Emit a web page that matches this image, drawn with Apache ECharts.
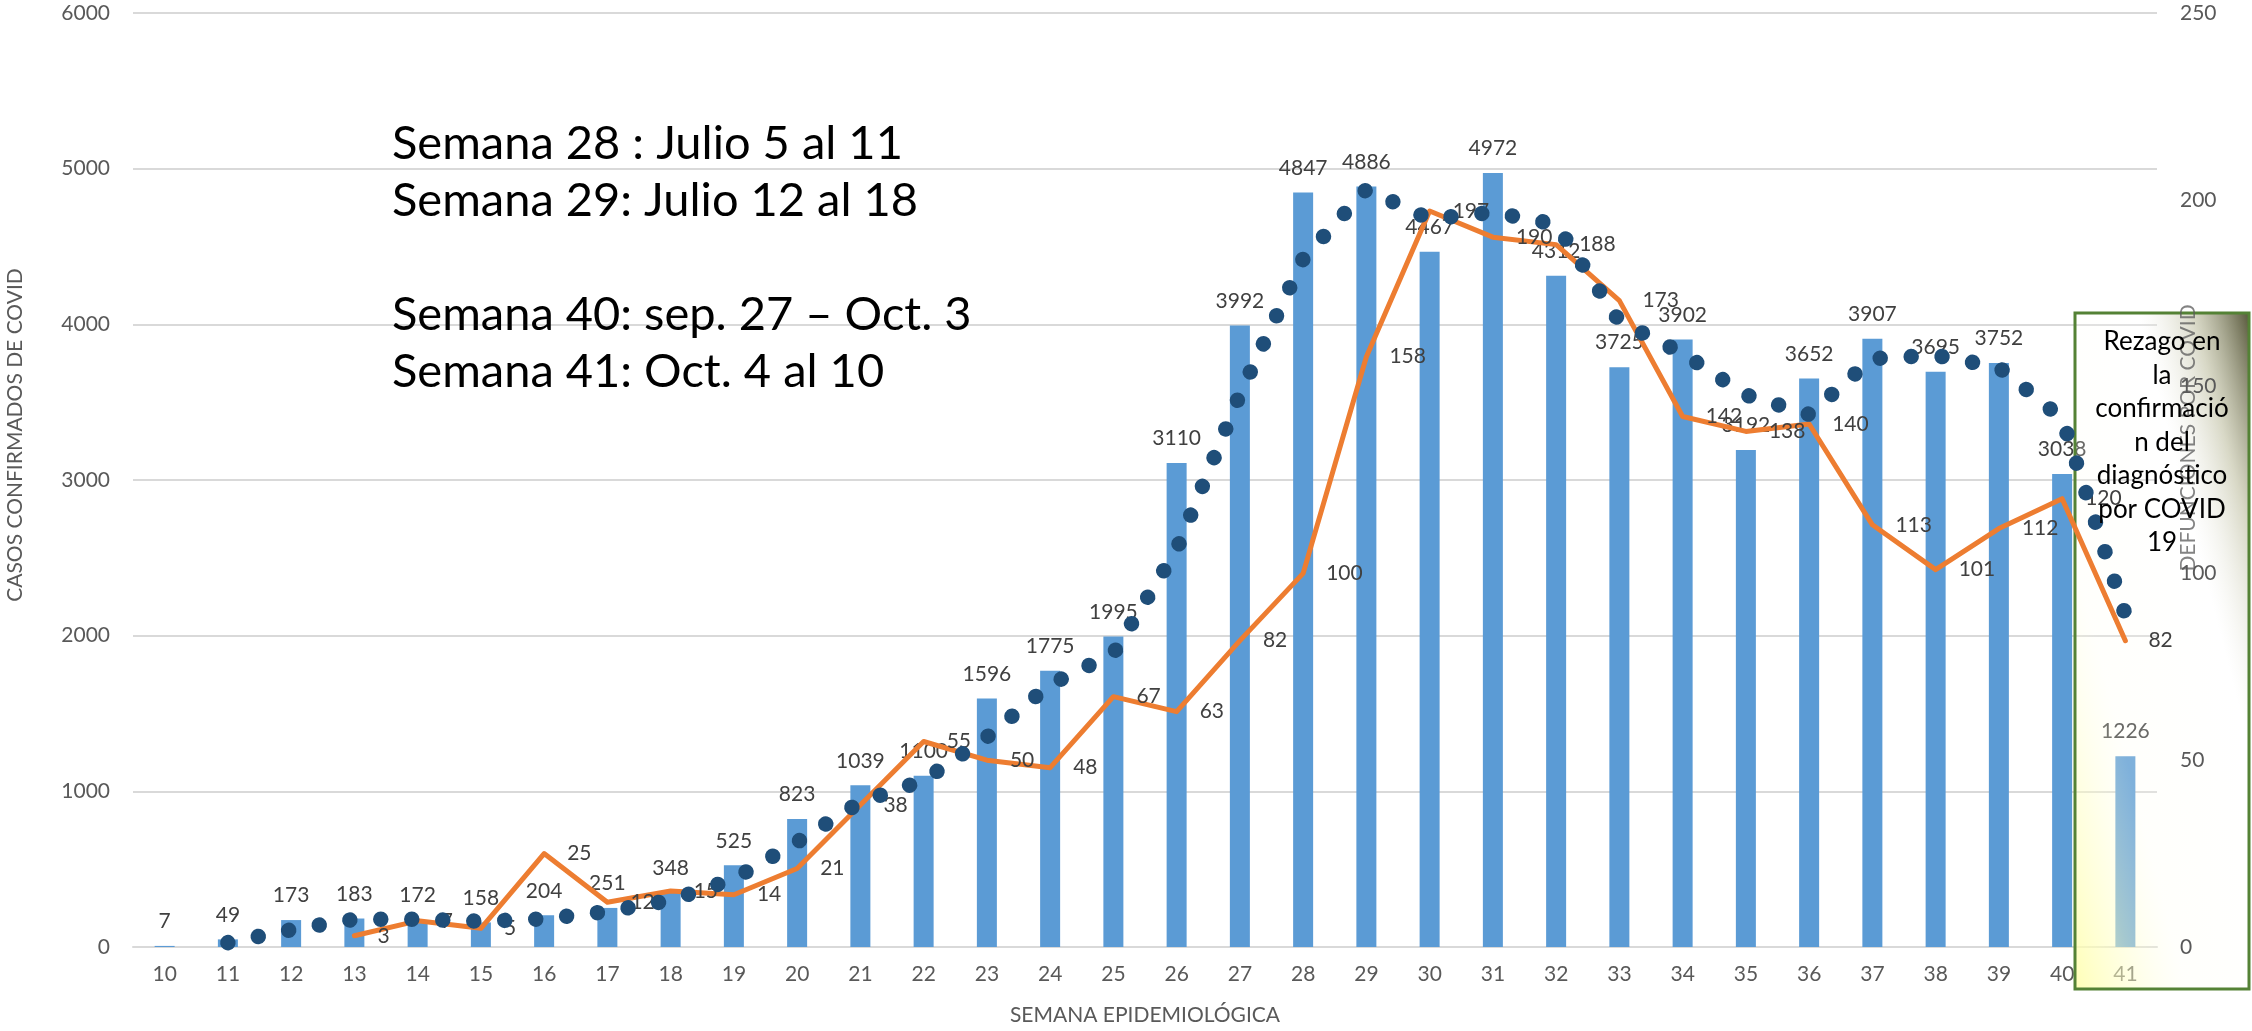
<!DOCTYPE html>
<html>
<head>
<meta charset="utf-8">
<script src="https://cdn.jsdelivr.net/npm/echarts@6/dist/echarts.min.js"></script>
<style>
html,body{margin:0;padding:0;background:#fff;}
#chart{width:2252px;height:1031px;}
</style>
</head>
<body>
<div id="chart"></div>
<script>
// ---- data ----
const semanas = ['10','11','12','13','14','15','16','17','18','19','20','21','22','23','24','25','26','27','28','29','30','31','32','33','34','35','36','37','38','39','40','41'];
const casosConfirmados = [7,49,173,183,172,158,204,251,348,525,823,1039,1100,1596,1775,1995,3110,3992,4847,4886,4467,4972,4312,3725,3902,3192,3652,3907,3695,3752,3038,1226];
const defunciones = [null,null,null,3,7,5,25,12,15,14,21,38,55,50,48,67,63,82,100,158,197,190,188,173,142,138,140,113,101,112,120,82];
// dotted trend line (2-week moving average of cases)
const tendenciaCasos = [null,28,111,178,178,165,181,228,300,437,674,931,1070,1348,1686,1885,2553,3551,4420,4867,4677,4720,4642,4019,3814,3547,3422,3780,3801,3724,3395,2132];
const ejeCasos = {min:0, max:6000, interval:1000};
const ejeDefunciones = {min:0, max:250, interval:50};
const notaSemanas = ['Semana 28 : Julio 5 al 11','Semana 29: Julio 12 al 18','','Semana 40: sep. 27 \u2013 Oct. 3','Semana 41: Oct. 4 al 10'];
const notaRezago = ['Rezago en','la','confirmació','n del','diagnóstico','por COVID','19'];

const FONT = 'Lato, Carlito, "Open Sans", sans-serif';
const chart = echarts.init(document.getElementById('chart'));

const boxX = 2075, boxY = 313, boxW = 174, boxH = 676;

chart.setOption({
  animation:false,
  backgroundColor:'#ffffff',
  textStyle:{fontFamily:FONT},
  grid:{left:133, right:95, top:13, bottom:84, containLabel:false},
  xAxis:{
    type:'category', data:semanas, z:0,
    axisLine:{show:true, lineStyle:{color:'#d9d9d9', width:2}},
    axisTick:{show:false},
    axisLabel:{color:'#595959', fontSize:21, margin:17, fontFamily:FONT},
    name:'SEMANA EPIDEMIOLÓGICA', nameLocation:'middle', nameGap:58,
    nameTextStyle:{color:'#595959', fontSize:21, fontFamily:FONT}
  },
  yAxis:[
    {type:'value', min:ejeCasos.min, max:ejeCasos.max, interval:ejeCasos.interval, z:0,
     axisLine:{show:false}, axisTick:{show:false},
     axisLabel:{color:'#595959', fontSize:21, margin:23, fontFamily:FONT, formatter:function(v){return String(v);}},
     splitLine:{show:true, lineStyle:{color:'#d9d9d9', width:2}}},
    {type:'value', min:ejeDefunciones.min, max:ejeDefunciones.max, interval:ejeDefunciones.interval, z:6,
     position:'right',
     axisLine:{show:false}, axisTick:{show:false},
     axisLabel:{color:'#595959', fontSize:21, margin:23, fontFamily:FONT, formatter:function(v){return String(v);}},
     splitLine:{show:false}}
  ],
  series:[
    {name:'Casos', type:'bar', data:casosConfirmados, barWidth:20, z:1,
     itemStyle:{color:'#5b9bd5'},
     label:{show:true, position:'top', distance:14, color:'#404040', fontSize:21, fontFamily:FONT}},
    {name:'Defunciones', type:'line', yAxisIndex:1, data:defunciones, z:3,
     symbol:'circle', symbolSize:2, showSymbol:true,
     itemStyle:{color:'#ed7d31'},
     lineStyle:{color:'#ed7d31', width:5, join:'round', cap:'round'},
     label:{show:true, position:'right', distance:22, color:'#404040', fontSize:21, fontFamily:FONT}},
    {name:'Tendencia', type:'line', data:tendenciaCasos, z:4,
     symbol:'none', connectNulls:false,
     lineStyle:{color:'#1f4e79', width:15.5, type:[0.01, 31], cap:'round', join:'round'}}
  ],
  graphic:[
    {type:'text', x:15, y:435, rotation:Math.PI/2, z:10,
     style:{text:'CASOS CONFIRMADOS DE COVID', fill:'#595959', font:'21px '+FONT, textAlign:'center', textVerticalAlign:'middle'}},
    {type:'text', x:392, y:115, z:10,
     style:{text:notaSemanas.join('\n'), fill:'#000000', font:'47px '+FONT, lineHeight:57, textAlign:'left', textVerticalAlign:'top'}},
    {type:'rect', z:2,
     shape:{x:boxX, y:boxY, width:boxW, height:boxH},
     style:{
       fill:new echarts.graphic.LinearGradient(boxX, boxY+boxH, boxX+326, boxY+boxH-84, [
         {offset:0, color:'rgba(255,255,170,0.85)'},
         {offset:0.18, color:'rgba(255,255,200,0.45)'},
         {offset:0.32, color:'rgba(255,255,240,0.22)'},
         {offset:0.68, color:'rgba(255,255,255,0.22)'},
         {offset:0.84, color:'rgba(190,190,160,0.6)'},
         {offset:1, color:'rgba(80,80,50,0.95)'}
       ], true),
       stroke:'#548235', lineWidth:3}},
    {type:'text', x:2188, y:438, rotation:Math.PI/2, z:10,
     style:{text:'DEFUNCIONES POR COVID', fill:'rgba(89,89,89,0.75)', font:'21px '+FONT, textAlign:'center', textVerticalAlign:'middle'}},
    {type:'text', x:boxX+boxW/2, y:325, z:11,
     style:{text:notaRezago.join('\n'), fill:'#000000', font:'26px '+FONT, lineHeight:33.5, textAlign:'center', textVerticalAlign:'top'}}
  ]
});
</script>
</body>
</html>
